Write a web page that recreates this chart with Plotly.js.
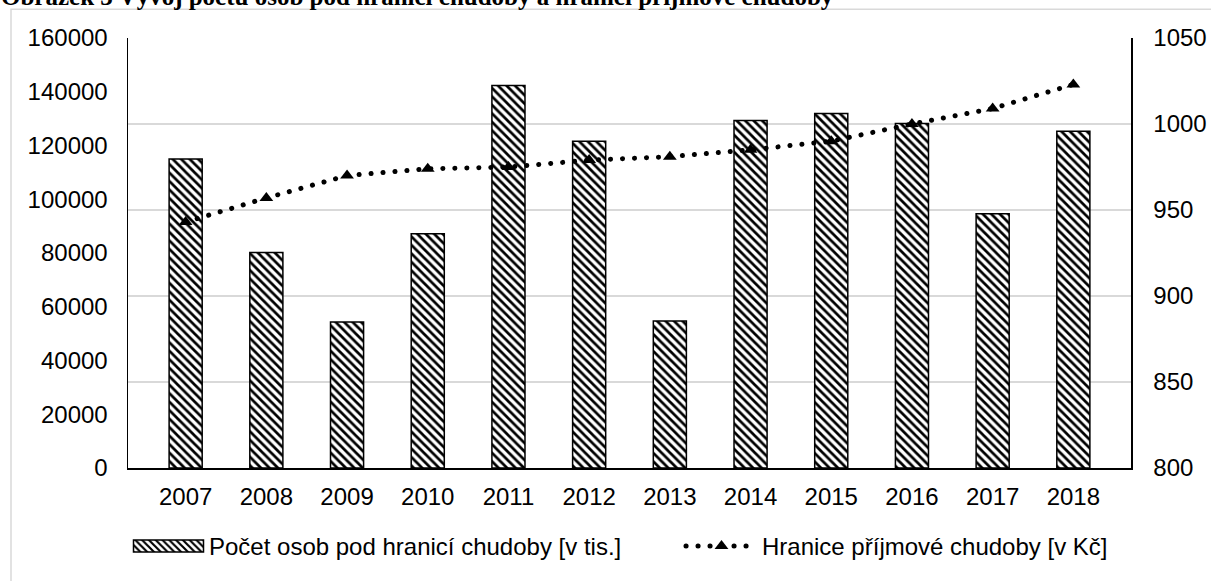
<!DOCTYPE html>
<html>
<head>
<meta charset="utf-8">
<script src="https://cdn.plot.ly/plotly-3.0.1.min.js"></script>
<style>
  html, body { margin: 0; padding: 0; background: #fff; }
  #chart { width: 1211px; height: 581px; }
  .js-line { stroke-linecap: round; }
</style>
</head>
<body>
<div id="chart"></div>
<script>
const years = ['2007','2008','2009','2010','2011','2012','2013','2014','2015','2016','2017','2018'];
const persons = [115000, 80200, 54300, 87200, 142300, 121600, 54700, 129300, 131900, 128200, 94600, 125300];
const povertyLine = [943, 957, 970, 974, 975, 979, 981, 985, 990, 1000, 1009, 1023];
const leftTicks = [0, 20000, 40000, 60000, 80000, 100000, 120000, 140000, 160000];
const rightTicks = [800, 850, 900, 950, 1000, 1050];
const seriesNames = ['Počet osob pod hranicí chudoby [v tis.]', 'Hranice příjmové chudoby [v Kč]'];
const titleText = 'Obrázek 3 Vývoj počtu osob pod hranicí chudoby a hranicí příjmové chudoby';

const FONT = 'Liberation Sans, Arial, sans-serif';
const W = 1211, H = 581;
const M = {l: 128, r: 80, t: 38, b: 110};
const plotW = W - M.l - M.r, plotH = H - M.t - M.b;
const px2x = p => (p - M.l) / plotW;
const py2y = p => (H - M.b - p) / plotH;
const TICK = 24;

const traces = [
  {
    type: 'bar', x: years, y: persons, name: seriesNames[0], yaxis: 'y', legend: 'legend',
    marker: {
      color: '#ffffff',
      line: {color: '#000000', width: 1.5},
      pattern: {shape: '\\', size: 6, solidity: 0.45, fgcolor: '#000000', bgcolor: '#ffffff', fillmode: 'replace'}
    }
  },
  {
    type: 'scatter', mode: 'lines+markers', x: years, y: povertyLine, name: seriesNames[1], yaxis: 'y2', legend: 'legend2',
    line: {color: '#000000', width: 5, dash: '0.1px,11.9px'},
    marker: {symbol: 'triangle-up', size: 12, color: '#000000'}
  }
];

const legendBase = {
  orientation: 'h', xanchor: 'left', y: py2y(550), yanchor: 'middle',
  font: {family: FONT, size: 24, color: '#000'}, itemwidth: 71, bgcolor: 'rgba(0,0,0,0)'
};

const layout = {
  width: W, height: H,
  margin: M,
  paper_bgcolor: '#ffffff', plot_bgcolor: '#ffffff',
  font: {family: FONT, size: TICK, color: '#000000'},
  showlegend: true,
  bargap: 0.59,
  xaxis: {
    type: 'category', showgrid: false, showline: true, linecolor: '#000000', linewidth: 1.5,
    ticks: '', tickfont: {family: FONT, size: TICK, color: '#000'}, ticklabelstandoff: 7,
    fixedrange: true
  },
  yaxis: {
    range: [0, 160000], tickvals: leftTicks, ticktext: leftTicks.map(String),
    showgrid: false, zeroline: false, showline: true, linecolor: '#000000', linewidth: 1.5,
    ticks: '', tickfont: {family: FONT, size: TICK, color: '#000'}, ticklabelstandoff: 14,
    fixedrange: true
  },
  yaxis2: {
    overlaying: 'y', side: 'right', range: [800, 1050], tickvals: rightTicks, ticktext: rightTicks.map(String),
    showgrid: true, gridcolor: '#d9d9d9', gridwidth: 2, zeroline: false,
    showline: true, linecolor: '#000000', linewidth: 1.5,
    ticks: '', tickfont: {family: FONT, size: TICK, color: '#000'}, ticklabelstandoff: 16,
    fixedrange: true
  },
  legend: Object.assign({}, legendBase, {x: px2x(128)}),
  legend2: Object.assign({}, legendBase, {x: px2x(681)}),
  shapes: [
    {type: 'rect', xref: 'paper', yref: 'paper', x0: px2x(11), x1: px2x(1300), y0: py2y(700), y1: py2y(9),
     line: {color: '#d9d9d9', width: 1.5}, fillcolor: 'rgba(0,0,0,0)', layer: 'below'}
  ],
  annotations: [
    {text: '<b>' + titleText + '</b>', xref: 'paper', yref: 'paper', x: px2x(-1), y: py2y(12),
     xanchor: 'left', yanchor: 'bottom', showarrow: false,
     font: {family: 'Liberation Serif, Times New Roman, serif', size: 25, color: '#000'}}
  ]
};

Plotly.newPlot('chart', traces, layout, {displayModeBar: false, staticPlot: true}).then(gd => {
  // widen the bar legend swatch to a long hatched rectangle, as in the reference
  const p = gd.querySelector('.legend .traces .legendpoints path');
  if (p) {
    const bb = p.getBBox();
    const cx = bb.x + bb.width / 2;
    const hw = 35, hh = 6;
    p.setAttribute('d', `M${cx + hw},${hh}H${cx - hw}V${-hh}H${cx + hw}Z`);
  }
});
</script>
</body>
</html>
